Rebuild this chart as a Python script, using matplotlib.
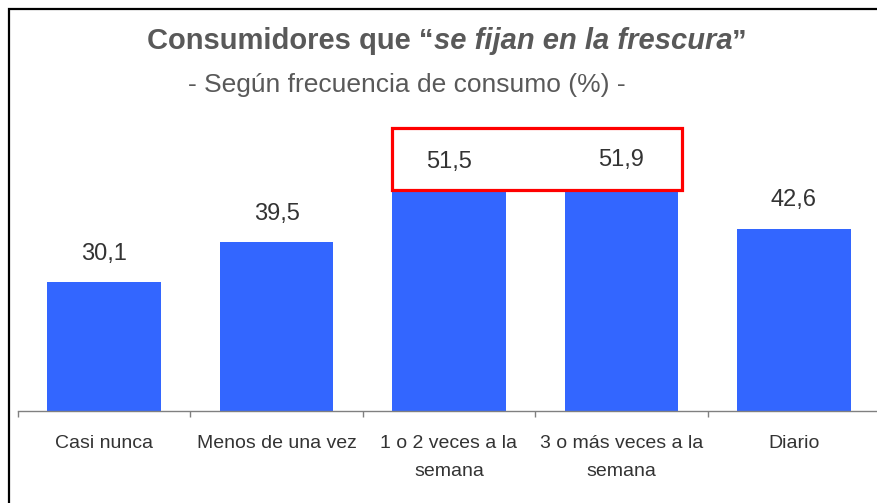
import matplotlib
matplotlib.use("Agg")
import matplotlib.pyplot as plt
from matplotlib.patches import Rectangle
import numpy as np

# data
categories = ["Casi nunca", "Menos de una vez", "1 o 2 veces a la\nsemana",
              "3 o más veces a la\nsemana", "Diario"]
values = [30.1, 39.5, 51.5, 51.9, 42.6]
value_labels = ["30,1", "39,5", "51,5", "51,9", "42,6"]
highlighted = [2, 3]

plt.rcParams['font.family'] = ['Liberation Sans', 'DejaVu Sans']

W, H = 878, 503
fig = plt.figure(figsize=(W / 100, H / 100), dpi=100)

# axes in pixel layout
left, right, bottom, top = 18, 880, 411, 154
ax = fig.add_axes([left / W, 1 - bottom / H, (right - left) / W, (bottom - top) / H])
x = np.arange(len(categories))
bars = ax.bar(x, values, width=0.66, color="#3366FF", zorder=2)
ax.set_xlim(-0.5, len(categories) - 0.5)
ax.set_ylim(0, 60)

for i, (v, lab) in enumerate(zip(values, value_labels)):
    ax.annotate(lab, (x[i], v), xytext=(0, 16), textcoords="offset points",
                ha="center", va="baseline", fontsize=17, color="#333333")

# highlight box around two labels
bw = 0.66
x0 = x[highlighted[0]] - bw / 2
x1 = x[highlighted[-1]] + bw / 2 + 0.02
y0 = min(values[i] for i in highlighted) + 0.1
ax.add_patch(Rectangle((x0, y0), x1 - x0, 14.5, fill=False, edgecolor="#FF0000",
                       linewidth=2.3, clip_on=False, zorder=5))

for s in ["left", "right", "top"]:
    ax.spines[s].set_visible(False)
ax.spines["bottom"].set_color("#808080")
ax.spines["bottom"].set_linewidth(1.0)
ax.set_yticks([])
ax.set_xticks(np.arange(-0.5, len(categories) + 0.5, 1.0))
ax.set_xticklabels([])
ax.tick_params(axis="x", which="major", length=4, color="#808080", width=1.0)
ax.set_xticks(x, minor=True)
ax.set_xticklabels(categories, minor=True, fontsize=14, color="#333333",
                   linespacing=1.8)
ax.tick_params(axis="x", which="minor", length=0, pad=17.5)

# outer frame
fig.patches.append(Rectangle((8.5 / W, -0.02), 1.0, 1 - 8.5 / H + 0.02,
                             transform=fig.transFigure, fill=False,
                             edgecolor="#000000", linewidth=1.6))

# title with mixed italic
fig.canvas.draw()
r = fig.canvas.get_renderer()
parts = [("Consumidores que \u201c", "normal"),
         ("se fijan en la frescura", "italic"),
         ("\u201d", "normal")]
texts = []
for s, st in parts:
    t = fig.text(0, 1 - 49 / H, s, fontsize=21, fontweight="bold", style=st,
                 color="#595959", va="baseline", ha="left")
    texts.append(t)
widths = [t.get_window_extent(r).width for t in texts]
xpos = 447 - sum(widths) / 2
for t, w in zip(texts, widths):
    t.set_x(xpos / W)
    xpos += w

fig.text(407 / W, 1 - 85 / H, "- Según frecuencia de consumo (%) -", fontsize=19,
         color="#595959", ha="center", va="center")

fig.savefig("out.png", dpi=100)
